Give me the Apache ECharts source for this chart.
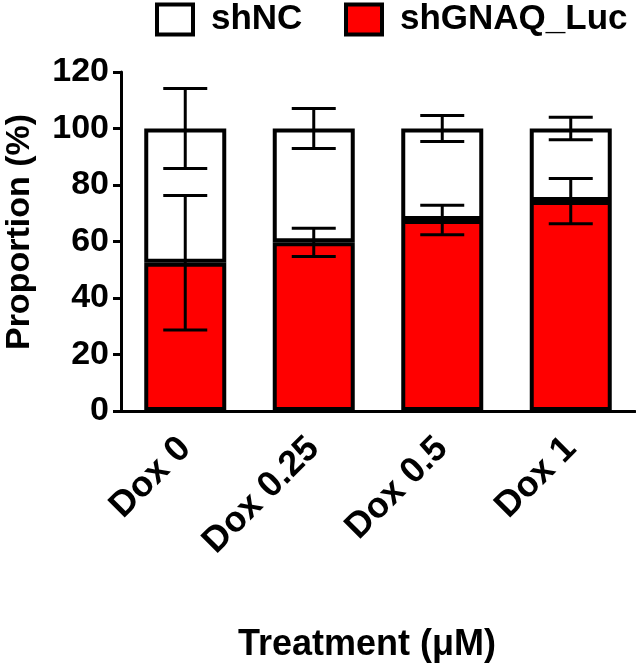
<!DOCTYPE html>
<html><head><meta charset="utf-8">
<script src="https://cdn.jsdelivr.net/npm/echarts@6/dist/echarts.min.js"></script>
<style>html,body{margin:0;padding:0;background:#fff}#c{width:636px;height:665px}</style>
</head><body><div id="c"></div>
<script>
const categories = ['Dox 0', 'Dox 0.25', 'Dox 0.5', 'Dox 1'];
const lucMean = [52.5, 59.7, 67.6, 74.3];
const lucSD = [23.8, 5.0, 5.2, 8.0];
const ncMean = [47.5, 40.3, 32.4, 25.7];
const ncSD = [14.2, 7.1, 4.6, 4.0];
const yTicks = { min: 0, max: 120, interval: 20 };

const FONT = "'Liberation Sans', Arial, sans-serif";
const chart = echarts.init(document.getElementById('c'));

const errLuc = categories.map((c, i) => [i, lucMean[i], lucSD[i]]);
const errNC = categories.map((c, i) => [i, lucMean[i] + ncMean[i], ncSD[i]]);

function errRender(params, api) {
  const x = api.value(0), m = api.value(1), sd = api.value(2);
  const hi = api.coord([x, m + sd]);
  const lo = api.coord([x, m - sd]);
  const cw = 22;
  const st = { stroke: '#000', lineWidth: 3 };
  return { type: 'group', children: [
    { type: 'line', shape: { x1: hi[0], y1: hi[1], x2: lo[0], y2: lo[1] }, style: st },
    { type: 'line', shape: { x1: hi[0] - cw, y1: hi[1], x2: hi[0] + cw, y2: hi[1] }, style: st },
    { type: 'line', shape: { x1: lo[0] - cw, y1: lo[1], x2: lo[0] + cw, y2: lo[1] }, style: st }
  ]};
}

const legendBase = {
  top: -3,
  itemWidth: 36, itemHeight: 30,
  icon: 'rect',
  itemStyle: { borderColor: '#000', borderWidth: 4 },
  textStyle: { fontSize: 35, fontWeight: 'bold', color: '#000', fontFamily: FONT, padding: [0, 0, 0, 13] }
};

chart.setOption({
  animation: false,
  textStyle: { fontFamily: FONT },
  legend: [
    Object.assign({ data: ['shNC'], left: 150 }, legendBase),
    Object.assign({ data: ['shGNAQ_Luc'], left: 339 }, legendBase)
  ],
  grid: { left: 121, right: 1, top: 72, bottom: 254, containLabel: false, outerBoundsMode: 'none' },
  xAxis: {
    type: 'category', data: categories,
    axisLine: { lineStyle: { color: '#000', width: 3 } },
    axisTick: { alignWithLabel: true, length: 9, lineStyle: { color: '#000', width: 3 } },
    axisLabel: { rotate: 45, margin: 32, fontSize: 36, fontWeight: 'bold', color: '#000', fontFamily: FONT, interval: 0 },
    name: 'Treatment (\u03bcM)', nameLocation: 'middle', nameGap: 216,
    nameTextStyle: { fontSize: 36, fontWeight: 'bold', color: '#000', fontFamily: FONT, padding: [0, 22, 0, 0] }
  },
  yAxis: {
    type: 'value', min: yTicks.min, max: yTicks.max, interval: yTicks.interval,
    splitLine: { show: false },
    axisLine: { show: true, lineStyle: { color: '#000', width: 3 } },
    axisTick: { show: true, length: 8, lineStyle: { color: '#000', width: 3 } },
    axisLabel: { margin: 12, fontSize: 34, fontWeight: 'bold', color: '#000', fontFamily: FONT },
    name: 'Proportion (%)', nameLocation: 'middle', nameGap: 84,
    nameTextStyle: { fontSize: 34, fontWeight: 'bold', color: '#000', fontFamily: FONT, padding: [0, 0, 0, 19] }
  },
  series: [
    { name: 'shGNAQ_Luc', type: 'bar', stack: 'a', data: lucMean, barWidth: 82,
      itemStyle: { color: '#ff0000', borderColor: '#000', borderWidth: 4 } },
    { name: 'shNC', type: 'bar', stack: 'a', data: ncMean, barWidth: 82,
      itemStyle: { color: '#ffffff', borderColor: '#000', borderWidth: 4 } },
    { type: 'custom', renderItem: errRender, data: errLuc, z: 10, silent: true },
    { type: 'custom', renderItem: errRender, data: errNC, z: 10, silent: true }
  ]
});
</script></body></html>
